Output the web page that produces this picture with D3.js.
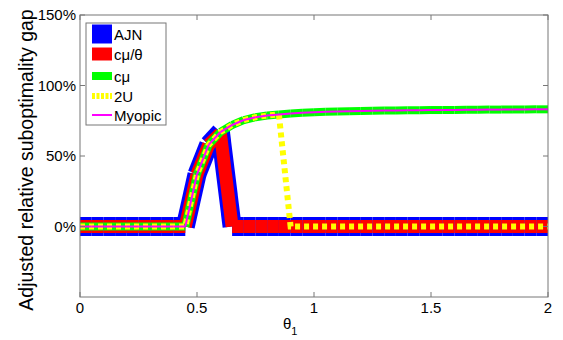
<!DOCTYPE html>
<html>
<head>
<meta charset="utf-8">
<script src="https://cdn.jsdelivr.net/npm/d3@7"></script>
<style>
  body { margin: 0; background: #fff; }
  svg { display: block; font-family: "Liberation Sans", Arial, sans-serif; }
</style>
</head>
<body>
<svg id="chart"></svg>
<script>
// theta_1 grid
const theta = [0, 0.05, 0.1, 0.15, 0.2, 0.25, 0.3, 0.35, 0.4, 0.45,
  0.5, 0.55, 0.6, 0.65, 0.7, 0.75, 0.8, 0.85, 0.9, 0.95,
  1, 1.05, 1.1, 1.15, 1.2, 1.25, 1.3, 1.35, 1.4, 1.45,
  1.5, 1.55, 1.6, 1.65, 1.7, 1.75, 1.8, 1.85, 1.9, 1.95, 2];

// gap in percent
const ajn = [0, 0, 0, 0, 0, 0, 0, 0, 0, 0,
  37, 58, 67, 0, 0, 0, 0, 0, 0, 0,
  0, 0, 0, 0, 0, 0, 0, 0, 0, 0,
  0, 0, 0, 0, 0, 0, 0, 0, 0, 0, 0];
const cmuTheta = [0, 0, 0, 0, 0, 0, 0, 0, 0, 0,
  37, 58, 66, 0, 0, 0, 0, 0, 0, 0,
  0, 0, 0, 0, 0, 0, 0, 0, 0, 0,
  0, 0, 0, 0, 0, 0, 0, 0, 0, 0, 0];
const cmu = [0, 0, 0, 0, 0, 0, 0, 0, 0, 0,
  37, 58, 67, 72, 75.5, 77.5, 78.7, 79.5, 80.2, 80.7,
  81.1, 81.4, 81.6, 81.8, 82, 82.1, 82.2, 82.3, 82.4, 82.5,
  82.6, 82.6, 82.7, 82.8, 82.8, 82.9, 82.9, 83, 83, 83.1, 83.1];
const twoU = [0, 0, 0, 0, 0, 0, 0, 0, 0, 0,
  37, 58, 67, 72, 75.5, 77.5, 78.7, 79.5, 0, 0,
  0, 0, 0, 0, 0, 0, 0, 0, 0, 0,
  0, 0, 0, 0, 0, 0, 0, 0, 0, 0, 0];
const myopic = [0, 0, 0, 0, 0, 0, 0, 0, 0, 0,
  37, 58, 67, 72, 75.5, 77.5, 78.7, 79.5, 80.2, 80.7,
  81.1, 81.4, 81.6, 81.8, 82, 82.1, 82.2, 82.3, 82.4, 82.5,
  82.6, 82.6, 82.7, 82.8, 82.8, 82.9, 82.9, 83, 83, 83.1, 83.1];

const seriesNames = ["AJN", "cμ/θ", "cμ", "2U", "Myopic"];
const xTicks = [0, 0.5, 1, 1.5, 2];
const yTicks = [0, 50, 100, 150];

const width = 563;
const height = 340;
const padLeft = 80, padRight = 548, padTop = 15, padBottom = 297;

const series = [
  { name: seriesNames[0], values: ajn, color: "#0000ff", w: 19 },
  { name: seriesNames[1], values: cmuTheta, color: "#ff0000", w: 13 },
  { name: seriesNames[2], values: cmu, color: "#00ff00", w: 8 },
  { name: seriesNames[3], values: twoU, color: "#ffff00", w: 6, dash: "5,4" },
  { name: seriesNames[4], values: myopic, color: "#ff00ff", w: 2 },
];

const svg = d3.select("#chart").attr("width", width).attr("height", height);

const x = d3.scaleLinear().domain([0, 2]).range([padLeft, padRight]);
const y = d3.scaleLinear().domain([-50, 150]).range([padBottom, padTop]);

svg.append("clipPath").attr("id", "plot")
  .append("rect").attr("x", padLeft).attr("y", padTop)
  .attr("width", padRight - padLeft).attr("height", padBottom - padTop);

const plot = svg.append("g").attr("clip-path", "url(#plot)");

// MATLAB-style thick lines: each segment on its own with butt ends
series.forEach((s) => {
  const pts = theta.map((t, i) => [x(t), y(s.values[i])]);
  if (s.dash) {
    plot.append("path")
      .attr("d", d3.line()(pts))
      .attr("fill", "none")
      .attr("stroke", s.color)
      .attr("stroke-width", s.w)
      .attr("stroke-dasharray", s.dash)
      .attr("stroke-linejoin", "miter");
  } else {
    plot.selectAll(null)
      .data(d3.pairs(pts))
      .enter()
      .append("line")
      .attr("x1", (d) => d[0][0])
      .attr("y1", (d) => d[0][1])
      .attr("x2", (d) => d[1][0])
      .attr("y2", (d) => d[1][1])
      .attr("stroke", s.color)
      .attr("stroke-width", s.w)
      .attr("stroke-linecap", "butt");
  }
});

// axes box and inward ticks
const axisColor = "#777";
svg.append("rect")
  .attr("x", padLeft).attr("y", padTop)
  .attr("width", padRight - padLeft).attr("height", padBottom - padTop)
  .attr("fill", "none").attr("stroke", axisColor).attr("stroke-width", 1);

const tickLen = 5;
xTicks.forEach((t) => {
  svg.append("line").attr("x1", x(t)).attr("x2", x(t))
    .attr("y1", padBottom).attr("y2", padBottom - tickLen).attr("stroke", axisColor);
  svg.append("line").attr("x1", x(t)).attr("x2", x(t))
    .attr("y1", padTop).attr("y2", padTop + tickLen).attr("stroke", axisColor);
  svg.append("text").attr("x", x(t)).attr("y", padBottom + 16)
    .attr("text-anchor", "middle").style("font-size", "15px").text(t);
});
yTicks.forEach((t) => {
  svg.append("line").attr("x1", padLeft).attr("x2", padLeft + tickLen)
    .attr("y1", y(t)).attr("y2", y(t)).attr("stroke", axisColor);
  svg.append("line").attr("x1", padRight).attr("x2", padRight - tickLen)
    .attr("y1", y(t)).attr("y2", y(t)).attr("stroke", axisColor);
  svg.append("text").attr("x", padLeft - 4).attr("y", y(t) + 5)
    .attr("text-anchor", "end").style("font-size", "15px").text(t + "%");
});

// axis labels
const xl = svg.append("text").attr("x", x(1) - 31).attr("y", 329)
  .style("font-size", "15px");
xl.append("tspan").text("θ");
xl.append("tspan").attr("dy", 6).style("font-size", "11px").text("1");

svg.append("text")
  .attr("transform", `translate(33, ${(padTop + padBottom) / 2 + 4}) rotate(-90)`)
  .attr("text-anchor", "middle")
  .style("font-size", "19.5px")
  .text("Adjusted relative suboptimality gap");

// legend
const legend = svg.append("g");
legend.append("rect")
  .attr("x", 86).attr("y", 23).attr("width", 80).attr("height", 102)
  .attr("fill", "#fff").attr("stroke", axisColor);
const rowY = [34, 54, 76, 96, 115];
series.forEach((s, i) => {
  legend.append("line")
    .attr("x1", 92).attr("x2", 112)
    .attr("y1", rowY[i]).attr("y2", rowY[i])
    .attr("stroke", s.color)
    .attr("stroke-width", s.w)
    .attr("stroke-dasharray", s.dash ? "3,1.5" : null);
  legend.append("text")
    .attr("x", 114).attr("y", rowY[i] + 5.5)
    .style("font-size", "15px")
    .text(s.name);
});
</script>
</body>
</html>
